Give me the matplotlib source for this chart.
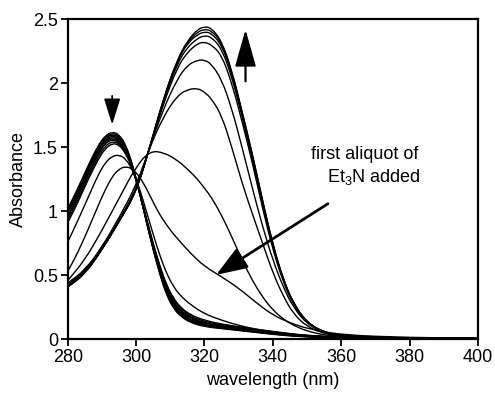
import numpy as np
import matplotlib
matplotlib.use("Agg")
import matplotlib.pyplot as plt
from matplotlib.path import Path
from matplotlib.patches import PathPatch

plt.rcParams['font.family'] = ['Liberation Sans', 'DejaVu Sans']
plt.rcParams['mathtext.default'] = 'regular'

# wavelength grids (nm)
wl_a = [280, 283, 286, 289, 291, 293, 295, 297, 299, 301, 303, 305, 307, 309,
        311, 313, 316, 320, 325, 330, 335, 340, 345, 350, 360, 380, 400]
wl_b = [280, 285, 290, 295, 300, 304, 308, 312, 315, 318, 320, 322, 325, 328,
        331, 334, 337, 340, 343, 346, 350, 355, 360, 370, 380, 400]

# spectra before Et3N (band at 293 nm)
a1 = [1.02, 1.18, 1.36, 1.52, 1.59, 1.62, 1.60, 1.52, 1.36, 1.15, 0.92, 0.70, 0.50, 0.34, 0.24, 0.18, 0.13, 0.10, 0.085, 0.07, 0.055, 0.04, 0.028, 0.02, 0.012, 0.008, 0.006]
a2 = [1.01, 1.17, 1.35, 1.51, 1.58, 1.61, 1.59, 1.51, 1.36, 1.15, 0.92, 0.70, 0.51, 0.35, 0.25, 0.185, 0.14, 0.105, 0.088, 0.073, 0.058, 0.043, 0.03, 0.021, 0.012, 0.008, 0.006]
a3 = [1.00, 1.16, 1.34, 1.50, 1.57, 1.60, 1.58, 1.50, 1.35, 1.15, 0.92, 0.71, 0.52, 0.36, 0.26, 0.19, 0.145, 0.11, 0.092, 0.076, 0.06, 0.045, 0.032, 0.022, 0.013, 0.008, 0.006]
a4 = [0.99, 1.15, 1.33, 1.49, 1.56, 1.59, 1.57, 1.49, 1.35, 1.15, 0.93, 0.71, 0.52, 0.37, 0.27, 0.20, 0.15, 0.115, 0.096, 0.08, 0.063, 0.048, 0.034, 0.023, 0.013, 0.009, 0.007]
a5 = [0.98, 1.14, 1.32, 1.48, 1.55, 1.58, 1.56, 1.48, 1.34, 1.15, 0.93, 0.72, 0.53, 0.38, 0.28, 0.21, 0.16, 0.12, 0.10, 0.083, 0.066, 0.05, 0.036, 0.024, 0.014, 0.009, 0.007]
a6 = [0.96, 1.12, 1.30, 1.46, 1.54, 1.57, 1.55, 1.47, 1.34, 1.15, 0.93, 0.72, 0.54, 0.39, 0.29, 0.22, 0.165, 0.125, 0.104, 0.087, 0.07, 0.053, 0.038, 0.026, 0.015, 0.009, 0.007]
a7 = [0.95, 1.11, 1.29, 1.45, 1.53, 1.56, 1.54, 1.47, 1.34, 1.15, 0.94, 0.73, 0.55, 0.40, 0.30, 0.23, 0.17, 0.13, 0.108, 0.09, 0.073, 0.056, 0.04, 0.028, 0.016, 0.01, 0.008]
a8 = [0.93, 1.09, 1.27, 1.43, 1.51, 1.545, 1.53, 1.46, 1.33, 1.15, 0.94, 0.74, 0.56, 0.41, 0.31, 0.24, 0.18, 0.14, 0.113, 0.095, 0.077, 0.06, 0.043, 0.03, 0.017, 0.01, 0.008]
a9 = [0.91, 1.07, 1.25, 1.41, 1.49, 1.53, 1.52, 1.45, 1.33, 1.15, 0.95, 0.75, 0.57, 0.42, 0.32, 0.25, 0.19, 0.15, 0.12, 0.10, 0.08, 0.063, 0.046, 0.032, 0.018, 0.011, 0.008]
c1 = [0.76, 0.93, 1.11, 1.29, 1.38, 1.43, 1.44, 1.41, 1.32, 1.18, 1.00, 0.82, 0.65, 0.51, 0.41, 0.34, 0.27, 0.20, 0.15, 0.11, 0.08, 0.058, 0.042, 0.03, 0.015, 0.01, 0.008]
c2 = [0.53, 0.68, 0.86, 1.05, 1.17, 1.27, 1.33, 1.35, 1.33, 1.27, 1.18, 1.07, 0.97, 0.89, 0.82, 0.76, 0.67, 0.57, 0.49, 0.40, 0.29, 0.19, 0.13, 0.085, 0.035, 0.015, 0.01]

# spectra after Et3N (band at 320 nm)
c3 = [0.46, 0.62, 0.85, 1.10, 1.35, 1.47, 1.46, 1.40, 1.33, 1.25, 1.18, 1.11, 0.97, 0.80, 0.62, 0.46, 0.33, 0.23, 0.16, 0.11, 0.065, 0.035, 0.022, 0.015, 0.012, 0.01]
b7 = [0.44, 0.54, 0.72, 0.95, 1.20, 1.50, 1.74, 1.90, 1.95, 1.96, 1.93, 1.88, 1.75, 1.50, 1.22, 0.98, 0.75, 0.52, 0.34, 0.20, 0.10, 0.045, 0.025, 0.015, 0.012, 0.01]
b6 = [0.43, 0.53, 0.71, 0.93, 1.17, 1.50, 1.80, 2.03, 2.14, 2.18, 2.18, 2.15, 2.03, 1.80, 1.50, 1.18, 0.88, 0.62, 0.41, 0.25, 0.12, 0.05, 0.025, 0.015, 0.012, 0.01]
b5 = [0.42, 0.52, 0.70, 0.92, 1.15, 1.50, 1.84, 2.12, 2.24, 2.31, 2.32, 2.30, 2.22, 2.00, 1.70, 1.38, 1.02, 0.70, 0.45, 0.27, 0.13, 0.055, 0.027, 0.016, 0.012, 0.01]
b4 = [0.42, 0.52, 0.70, 0.92, 1.15, 1.50, 1.86, 2.15, 2.28, 2.35, 2.37, 2.36, 2.27, 2.05, 1.74, 1.41, 1.05, 0.72, 0.46, 0.275, 0.13, 0.055, 0.027, 0.016, 0.012, 0.01]
b3 = [0.41, 0.51, 0.70, 0.92, 1.15, 1.50, 1.87, 2.17, 2.31, 2.38, 2.40, 2.39, 2.30, 2.08, 1.76, 1.43, 1.07, 0.73, 0.47, 0.28, 0.13, 0.055, 0.028, 0.016, 0.012, 0.01]
b2 = [0.41, 0.51, 0.70, 0.92, 1.15, 1.50, 1.88, 2.18, 2.32, 2.40, 2.42, 2.41, 2.32, 2.09, 1.77, 1.44, 1.08, 0.74, 0.47, 0.28, 0.13, 0.055, 0.028, 0.016, 0.012, 0.01]
b1 = [0.41, 0.51, 0.70, 0.92, 1.15, 1.50, 1.88, 2.18, 2.33, 2.42, 2.44, 2.43, 2.33, 2.10, 1.78, 1.45, 1.08, 0.74, 0.47, 0.28, 0.13, 0.055, 0.028, 0.016, 0.012, 0.01]

spectra_a = [a1, a2, a3, a4, a5, a6, a7, a8, a9, c1, c2]
spectra_b = [c3, b7, b6, b5, b4, b3, b2, b1]

x_ticks = [280, 300, 320, 340, 360, 380, 400]
y_ticks = [0, 0.5, 1, 1.5, 2, 2.5]
y_ticklabels = ["0", "0.5", "1", "1.5", "2", "2.5"]


def smooth_line(ax, x, y, lw=1.0):
    # quadratic bezier through midpoints of the measured points
    pts = np.column_stack([x, y])
    verts = [pts[0], (pts[0] + pts[1]) / 2]
    codes = [Path.MOVETO, Path.LINETO]
    for i in range(1, len(pts) - 1):
        verts += [pts[i], (pts[i] + pts[i + 1]) / 2]
        codes += [Path.CURVE3, Path.CURVE3]
    verts.append(pts[-1])
    codes.append(Path.LINETO)
    ax.add_patch(PathPatch(Path(verts, codes), facecolor='none',
                           edgecolor='black', lw=lw, clip_on=True))


fig = plt.figure(figsize=(4.95, 3.96), dpi=100)
ax = fig.add_axes([0.1368, 0.1427, 0.8289, 0.8093])

for s in spectra_a:
    smooth_line(ax, wl_a, s)
for s in spectra_b:
    smooth_line(ax, wl_b, s)

ax.set_xlim(280, 400)
ax.set_ylim(0, 2.5)
ax.set_xticks(x_ticks)
ax.set_yticks(y_ticks)
ax.set_yticklabels(y_ticklabels)
ax.tick_params(direction='out', length=5, width=1.3, labelsize=13, pad=2)
for sp in ax.spines.values():
    sp.set_linewidth(1.6)
ax.set_xlabel("wavelength (nm)", fontsize=13, labelpad=4)
ax.set_ylabel("Absorbance", fontsize=13, labelpad=4)

# arrows
ax.annotate("", xy=(293.0, 1.676), xytext=(293.0, 1.90),
            arrowprops=dict(arrowstyle='-|>,head_length=1.6,head_width=0.5',
                            mutation_scale=10, lw=1.3, color='black',
                            shrinkA=0, shrinkB=0))
ax.annotate("", xy=(332.0, 2.418), xytext=(332.0, 2.014),
            arrowprops=dict(arrowstyle='-|>,head_length=2.3,head_width=0.65',
                            mutation_scale=10, lw=1.6, color='black',
                            shrinkA=0, shrinkB=0))
ax.annotate("", xy=(323.4, 0.504), xytext=(356.1, 1.059),
            arrowprops=dict(arrowstyle='-|>,head_length=1.9,head_width=0.7',
                            mutation_scale=10, lw=2.0, color='black',
                            shrinkA=0, shrinkB=0))

ax.text(367.0, 1.44, "first aliquot of", ha='center', va='center', fontsize=13)
ax.text(369.5, 1.27, "Et$_3$N added", ha='center', va='center', fontsize=13)

fig.savefig("out.png", dpi=100)
